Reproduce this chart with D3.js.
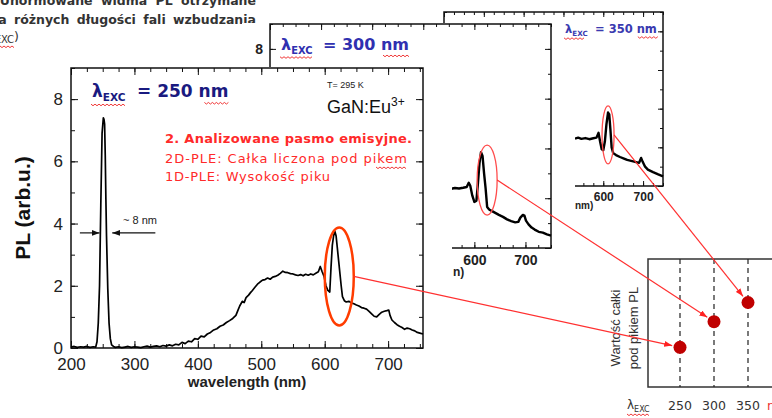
<!DOCTYPE html>
<html>
<head>
<meta charset="utf-8">
<script src="https://cdn.jsdelivr.net/npm/d3@7"></script>
<style>
  body { margin: 0; background: #fff; }
  svg { display: block; }
</style>
</head>
<body>
<svg id="chart" width="772" height="418"></svg>
<script>
// spectra: [wavelength nm, PL arb.u.]
const spec250 = [
  [200,.03],[205,.05],[210,.02],[215,.04],[220,.03],[225,.05],[230,.02],[235,.04],[239,.03],
  [241,.2],[243,.8],[245,2.0],[247,4.6],[249,6.9],[251,7.4],[252,7.35],[253,7.2],[254,6.2],[255,4.8],
  [256,3.6],[258,1.9],[260,.8],[262,.3],[264,.1],[267,.05],
  [270,.02],[275,.04],[280,.01],[285,.03],[290,.05],[295,.02],[300,.04],[305,.03],[310,.01],[315,.04],
  [320,.06],[325,.03],[330,.05],[335,.07],[340,.04],[345,.08],[350,.06],[355,.1],[360,.07],[365,.12],
  [370,.1],[375,.18],[380,.14],[385,.22],[390,.2],[395,.3],[400,.28],[405,.38],[410,.36],[415,.45],
  [420,.5],[425,.58],[430,.62],[435,.7],[440,.74],[445,.82],[450,.88],[455,.95],[460,1.05],[463,1.2],
  [466,1.35],[470,1.5],[473,1.46],[476,1.62],[480,1.7],[483,1.78],[486,1.85],[490,1.95],[494,2.05],
  [498,2.12],[502,2.18],[506,2.2],[510,2.25],[514,2.21],[518,2.28],[522,2.3],[526,2.34],[530,2.4],
  [534,2.47],[538,2.43],[542,2.42],[546,2.39],[550,2.38],[554,2.35],[558,2.33],[562,2.36],[566,2.32],
  [570,2.37],[574,2.34],[578,2.38],[582,2.35],[586,2.4],[590,2.45],[593,2.62],[596,2.45],[599,2.3],
  [602,2.0],[605,1.85],[608,1.8],[610,2.6],[612,3.3],[614,3.6],[616,3.75],[618,3.6],[620,3.2],
  [622,2.8],[624,2.4],[626,2.0],[628,1.65],[631,1.52],[634,1.48],[638,1.5],[642,1.45],[646,1.42],
  [650,1.38],[654,1.35],[658,1.3],[662,1.28],[666,1.25],[670,1.18],[674,1.1],[678,1.02],[682,1.0],
  [686,1.08],[690,1.15],[694,1.18],[698,1.2],[701,1.22],[703,1.05],[706,.9],[710,.82],[714,.75],
  [718,.7],[722,.66],[726,.6],[730,.64],[734,.62],[738,.58],[742,.55],[746,.5],[750,.48],[755,.45]
]
const spec300 = [
  [540,2.4],[548,2.42],[555,2.38],[562,2.41],[570,2.39],[578,2.42],[585,2.45],[589,2.62],[592,2.5],
  [596,2.1],[600,1.85],[604,1.9],[607,2.6],[610,3.4],[613,3.85],[616,3.7],[619,3.0],[622,2.4],
  [625,1.65],[629,1.55],[633,1.5],[640,1.42],[648,1.33],[656,1.25],[664,1.15],[672,1.08],[680,1.03],
  [686,1.05],[690,1.22],[695,1.33],[698,1.3],[701,1.1],[706,.95],[712,.82],[718,.74],[726,.65],
  [734,.62],[742,.55],[750,.5]
]
const spec350 = [
  [529,2.45],[537,2.5],[545,2.44],[555,2.48],[565,2.42],[575,2.47],[583,2.5],[588,2.75],[592,2.3],
  [596,1.9],[600,1.85],[604,2.3],[608,3.2],[612,3.8],[615,3.7],[618,2.9],[621,2.0],[625,1.7],
  [632,1.6],[642,1.5],[652,1.42],[660,1.35],[670,1.3],[680,1.25],[690,1.2],[695,1.45],[699,1.25],
  [705,1.0],[712,.85],[725,.72],[738,.6],[750,.5]
]
const xTicks = [200, 300, 400, 500, 600, 700]
const yTicks = [0, 2, 4, 6, 8]
// only these labels of the back panels show past the panels in front
const xLabelsBack = [600, 700]
const yLabels300 = [8]
const excWl = [250, 300, 350]
const peakArea = [3.1, 5.1, 6.6]

const svg = d3.select('#chart')
const SANS = 'Liberation Sans, Arial, sans-serif'
const DV = 'DejaVu Sans, Verdana, sans-serif'

const defs = svg.append('defs')
function marker(id, col) {
  defs.append('marker')
    .attr('id', id).attr('viewBox', '0 0 8 6').attr('refX', 8).attr('refY', 3)
    .attr('markerWidth', 8).attr('markerHeight', 6).attr('markerUnits', 'userSpaceOnUse')
    .attr('orient', 'auto')
    .append('path').attr('d', 'M0,0L8,3L0,6Z').attr('fill', col)
}
marker('arr', '#f22')
marker('arrK', '#111')

function wavy(g, x0, x1, y) {
  let p = `M${x0},${y}`
  for (let x = x0, i = 0; x < x1; x += 2, i++) p += `L${x + 2},${y + (i % 2 ? 0 : 1.6)}`
  g.append('path').attr('d', p).attr('fill', 'none').attr('stroke', '#e22').attr('stroke-width', 0.9)
}

// title, partly cut by the left and top edge
const tg = svg.append('g').attr('font-family', DV).attr('font-weight', 'bold').attr('font-size', 12.5).attr('fill', '#333')
tg.append('text').attr('x', 256).attr('y', 5).attr('text-anchor', 'end').attr('word-spacing', 4).text('Unormowane widma PL otrzymane')
tg.append('text').attr('x', 256).attr('y', 24).attr('text-anchor', 'end').attr('word-spacing', 3).text('dla różnych długości fali wzbudzania')
const t3 = tg.append('text').attr('x', 19).attr('y', 41).attr('text-anchor', 'end').attr('font-weight', 'normal')
t3.append('tspan').text('(λ')
t3.append('tspan').attr('font-size', 10).attr('dy', 2).text('EXC')
t3.append('tspan').attr('dy', -2).text(')')
wavy(tg, 0, 14, 46)

function drawPanel(o) {
  const g = svg.append('g')
  g.append('rect').attr('x', o.box[0]).attr('y', o.box[1]).attr('width', o.box[2]).attr('height', o.box[3]).attr('fill', '#fff')
  const x = d3.scaleLinear().domain(o.xDom).range([o.l, o.r])
  const y = d3.scaleLinear().domain([0, 9]).range([o.b, o.t])
  const minX = d3.range(200, 751, 25)
  const minY = d3.range(0, 10)
  const axes = [
    [d3.axisBottom(x).tickValues(minX).tickSize(-o.tMin).tickFormat(''), `translate(0,${o.b})`],
    [d3.axisBottom(x).tickValues(xTicks).tickSize(-o.tMaj).tickFormat(''), `translate(0,${o.b})`],
    [d3.axisBottom(x).tickValues(o.xLab).tickSize(0).tickPadding(o.padX).tickFormat(d3.format('d')), `translate(0,${o.b})`],
    [d3.axisTop(x).tickValues(minX).tickSize(-o.tMin).tickFormat(''), `translate(0,${o.t})`],
    [d3.axisTop(x).tickValues(xTicks).tickSize(-o.tMaj).tickFormat(''), `translate(0,${o.t})`],
    [d3.axisLeft(y).tickValues(minY).tickSize(-o.tMin).tickFormat(''), `translate(${o.l},0)`],
    [d3.axisLeft(y).tickValues(yTicks).tickSize(-o.tMaj).tickFormat(''), `translate(${o.l},0)`],
    [d3.axisLeft(y).tickValues(o.yLab).tickSize(0).tickPadding(o.padY).tickFormat(d3.format('d')), `translate(${o.l},0)`],
    [d3.axisRight(y).tickValues(minY).tickSize(-o.tMin).tickFormat(''), `translate(${o.r},0)`],
    [d3.axisRight(y).tickValues(yTicks).tickSize(-o.tMaj).tickFormat(''), `translate(${o.r},0)`]
  ]
  axes.forEach(([ax, tr]) => {
    const a = g.append('g').attr('transform', tr).call(ax)
    a.select('.domain').remove()
    a.attr('font-family', SANS).attr('font-size', o.fs).attr('font-weight', o.fw)
    a.selectAll('line').attr('stroke', '#111').attr('stroke-width', 1)
    a.selectAll('text').attr('fill', '#222')
  })
  g.append('rect').attr('x', o.l).attr('y', o.t).attr('width', o.r - o.l).attr('height', o.b - o.t)
    .attr('fill', 'none').attr('stroke', '#111').attr('stroke-width', 1.5)
  g.append('path').datum(o.data)
    .attr('d', d3.line().x(d => x(d[0])).y(d => y(d[1])))
    .attr('fill', 'none').attr('stroke', '#000').attr('stroke-width', o.lw).attr('stroke-linejoin', 'round')
  g.append('text').attr('x', o.titleX).attr('y', o.titleY).attr('text-anchor', o.titleAnchor)
    .attr('font-family', SANS).attr('font-weight', 'bold').attr('font-size', o.titleFs).attr('fill', '#222')
    .text(o.title)
  const cx = x(o.ell[0]), cy = y(o.ell[1])
  g.append('ellipse').attr('cx', cx).attr('cy', cy).attr('rx', o.ell[2]).attr('ry', o.ell[3])
    .attr('fill', 'none').attr('stroke', o.ellColor).attr('stroke-width', o.ellW)
  return { g, x, y, start: [cx + o.ell[2], cy] }
}

const p350 = drawPanel({
  box: [430, 0, 342, 250], xDom: [200, 750], l: 444, r: 663, t: 12, b: 186,
  tMin: 3, tMaj: 5, padX: 6, padY: 5, fs: 12, fw: 'bold', data: spec350, lw: 2.4,
  xLab: xLabelsBack, yLab: [],
  title: 'nm)', titleX: 575, titleY: 209, titleFs: 10, titleAnchor: 'start',
  ell: [612, 2.64, 6, 29], ellColor: '#ff4d4d', ellW: 1.3
})
const p300 = drawPanel({
  box: [242, 23, 333, 267], xDom: [200, 750], l: 270, r: 551, t: 24, b: 248,
  tMin: 3, tMaj: 6, padX: 7, padY: 7, fs: 14, fw: 'bold', data: spec300, lw: 2.4,
  xLab: xLabelsBack, yLab: yLabels300,
  title: 'n)', titleX: 453, titleY: 276, titleFs: 12, titleAnchor: 'start',
  ell: [625, 2.73, 10, 35], ellColor: '#ff4d4d', ellW: 1.3
})
const pMain = drawPanel({
  box: [-2, 67, 454, 352], xDom: [200, 755], l: 71, r: 423, t: 68, b: 348,
  tMin: 4, tMaj: 7, padX: 10, padY: 8, fs: 17, fw: 'normal', data: spec250, lw: 1.7,
  xLab: xTicks, yLab: yTicks,
  title: 'wavelength (nm)', titleX: 247, titleY: 387, titleFs: 15, titleAnchor: 'middle',
  ell: [623, 2.3, 14.5, 49], ellColor: '#ff3c00', ellW: 2.5
})

// main panel extras
const mg = pMain.g
mg.append('text').attr('transform', 'translate(30,208) rotate(-90)').attr('text-anchor', 'middle')
  .attr('font-family', SANS).attr('font-weight', 'bold').attr('font-size', 21).attr('fill', '#111')
  .text('PL (arb.u.)')
mg.append('text').attr('x', 327).attr('y', 88).attr('font-family', SANS).attr('font-size', 9).attr('fill', '#222').text('T= 295 K')
const gan = mg.append('text').attr('x', 327).attr('y', 113).attr('font-family', SANS).attr('font-size', 18).attr('fill', '#111')
gan.append('tspan').text('GaN:Eu')
gan.append('tspan').attr('font-size', 12).attr('dy', -7).text('3+')
const redTexts = [
  ['2. Analizowane pasmo emisyjne.', 143, 247, 'bold'],
  ['2D-PLE: Całka liczona pod pikem', 163, 242, 'normal'],
  ['1D-PLE: Wysokość piku', 181, 165, 'normal']
]
redTexts.forEach(([t, yy, len, fw]) => {
  mg.append('text').attr('x', 165).attr('y', yy).attr('font-family', DV).attr('font-size', 13)
    .attr('font-weight', fw).attr('fill', '#ff2a2a')
    .attr('textLength', len).attr('lengthAdjust', 'spacing').text(t)
})
wavy(mg, 376, 406, 167)
// FWHM arrows
const xm = pMain.x, ym = pMain.y
const yHalf = ym(3.7)
mg.append('line').attr('x1', xm(214)).attr('x2', xm(245)).attr('y1', yHalf).attr('y2', yHalf)
  .attr('stroke', '#111').attr('stroke-width', 1.2).attr('marker-end', 'url(#arrK)')
mg.append('line').attr('x1', xm(333)).attr('x2', xm(265)).attr('y1', yHalf).attr('y2', yHalf)
  .attr('stroke', '#111').attr('stroke-width', 1.2).attr('marker-end', 'url(#arrK)')
mg.append('text').attr('x', 123).attr('y', 224).attr('font-family', SANS).attr('font-size', 11).attr('fill', '#222').text('~ 8 nm')

// lambda labels (overlay)
const lg = svg.append('g').attr('font-family', DV).attr('font-weight', 'bold')
function lam(g, x, y, fs, col, val, gap, nmW) {
  const t = g.append('text').attr('x', x).attr('y', y).attr('fill', col).attr('font-size', fs)
  t.append('tspan').text('λ')
  t.append('tspan').attr('font-size', fs * 0.62).attr('dy', fs * 0.25).text('EXC')
  const t2 = g.append('text').attr('x', x + gap).attr('y', y).attr('fill', col).attr('font-size', fs).text('= ' + val + ' nm')
  const w = t2.node().getComputedTextLength()
  wavy(g, x - 1, x + gap - 12, y + fs * 0.42)
  wavy(g, x + gap + w - nmW, x + gap + w, y + fs * 0.32)
}
lam(lg, 92, 97, 17, '#1a1a80', 250, 45, 24)
lam(lg, 281, 50, 16, '#3030b0', 300, 42, 26)
lam(lg, 565, 33, 11.5, '#3a3ab0', 350, 30, 19)

// bottom-right summary panel
const bg = svg.append('g')
bg.append('rect').attr('x', 600).attr('y', 252).attr('width', 172).attr('height', 166).attr('fill', '#fff')
const xb = d3.scaleLinear().domain([250, 350]).range([680, 748])
const yb = d3.scaleLinear().domain([0, 10]).range([387, 259])
bg.append('rect').attr('x', 648).attr('y', yb(10)).attr('width', 140).attr('height', yb(0) - yb(10))
  .attr('fill', 'none').attr('stroke', '#333').attr('stroke-width', 1.5)
bg.selectAll('line.dash').data(excWl).enter().append('line').attr('class', 'dash')
  .attr('x1', d => xb(d)).attr('x2', d => xb(d)).attr('y1', yb(10)).attr('y2', yb(0))
  .attr('stroke', '#222').attr('stroke-width', 1.2).attr('stroke-dasharray', '5,4')
bg.selectAll('text.lab').data(excWl).enter().append('text').attr('class', 'lab')
  .attr('x', d => xb(d)).attr('y', 410).attr('text-anchor', 'middle')
  .attr('font-family', DV).attr('font-size', 12.5).attr('fill', '#333').text(d => d)
const lb = bg.append('text').attr('x', 627).attr('y', 409).attr('font-family', DV).attr('font-size', 12).attr('fill', '#333')
lb.append('tspan').text('λ')
lb.append('tspan').attr('font-size', 8).attr('dy', 3).text('EXC')
wavy(bg, 627, 648, 414)
bg.append('text').attr('x', 767).attr('y', 410).attr('font-family', DV).attr('font-size', 12.5).attr('fill', '#e33').text('nm')
const yl = bg.append('text').attr('transform', 'translate(620,328) rotate(-90)').attr('text-anchor', 'middle')
  .attr('font-family', SANS).attr('font-size', 13).attr('fill', '#333')
yl.append('tspan').attr('x', 0).attr('dy', 0).text('Wartość całki')
yl.append('tspan').attr('x', 0).attr('dy', 18).text('pod pikiem PL')
bg.selectAll('circle').data(excWl).enter().append('circle')
  .attr('cx', d => xb(d)).attr('cy', (d, i) => yb(peakArea[i])).attr('r', 6.5).attr('fill', '#c00000')

// connectors from each analysed band to its summary point
const starts = [pMain.start, p300.start, p350.start]
starts.forEach((s, i) => {
  const ex = xb(excWl[i]), ey = yb(peakArea[i])
  const dx = ex - s[0], dy = ey - s[1], L = Math.hypot(dx, dy)
  svg.append('line').attr('x1', s[0]).attr('y1', s[1])
    .attr('x2', ex - dx / L * 8).attr('y2', ey - dy / L * 8)
    .attr('stroke', '#ff3030').attr('stroke-width', 1.2).attr('marker-end', 'url(#arr)')
})
</script>
</body>
</html>
